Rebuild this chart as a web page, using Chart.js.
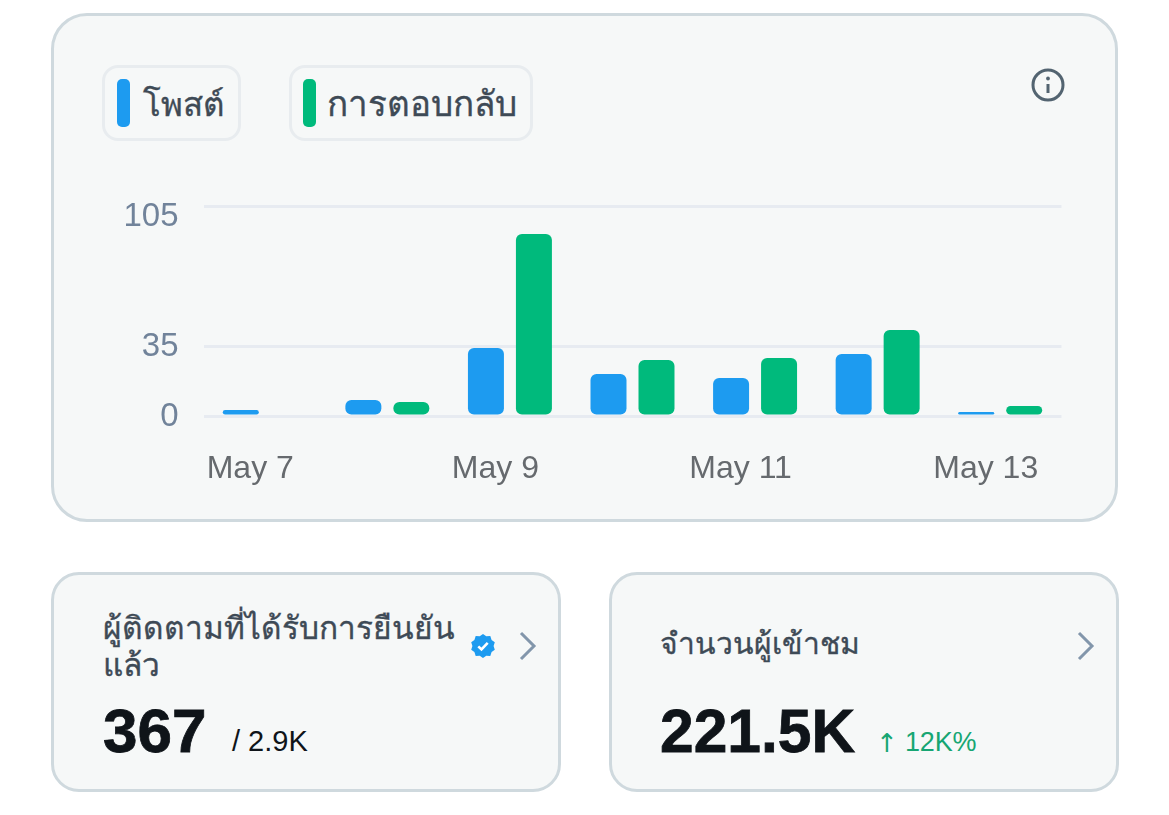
<!DOCTYPE html>
<html lang="th"><head><meta charset="utf-8">
<script src="https://cdn.jsdelivr.net/npm/chart.js@4/dist/chart.umd.js"></script>
<style>
html,body{margin:0;padding:0;background:#fff;width:1169px;height:815px;overflow:hidden;font-family:"Liberation Sans","Noto Sans",sans-serif}
.abs,.card,.pill,.sw,svg,canvas,.t{position:absolute;box-sizing:border-box}
.card{background:#f6f8f8;border:3px solid #cfd9de}
.pill{border:3px solid #e8ecef;border-radius:16px;height:76px;top:65px}
.sw{width:13px;height:48px;top:79px;border-radius:5px}
.t{white-space:nowrap;line-height:1}
.th{color:#3e4a56;-webkit-text-stroke:.35px #3e4a56}
.big{font-weight:700;color:#0f1419;-webkit-text-stroke:.8px #0f1419}
</style></head><body>
<div class="card" style="left:51px;top:13px;width:1067px;height:509px;border-radius:36px"></div>
<div class="pill" style="left:102px;width:139px"></div>
<div class="sw" style="left:117px;background:#1d9bf0"></div>
<div class="t th" id="l0" style="left:143px;top:88px;font-size:33px"></div>
<div class="pill" style="left:289px;width:244px"></div>
<div class="sw" style="left:303px;background:#00ba7c"></div>
<div class="t th" id="l1" style="left:327px;top:86px;font-size:35px"></div>
<svg style="left:1030px;top:67px" width="36" height="36" viewBox="0 0 36 36" fill="none" stroke="#536471" stroke-width="3"><circle cx="18" cy="18" r="15"/><path d="M18 17v9"/><circle cx="18" cy="11.5" r="1.2" fill="#536471" stroke-width="1.4"/></svg>
<canvas id="c" width="980" height="310" style="left:100px;top:190px;width:980px;height:310px"></canvas>

<div class="card" style="left:51px;top:572px;width:510px;height:220px;border-radius:28px"></div>
<div class="t th" style="left:103px;top:610px;font-size:31.6px;line-height:37px">ผู้ติดตามที่ได้รับการยืนยัน<br>แล้ว</div>
<svg style="left:470px;top:633px" width="26" height="26" viewBox="0 0 26 26"><path fill="#1d9bf0" d="M13 1l3.3 2.3 4-.2 1.3 3.8 3.2 2.4L23.6 13l1.2 3.7-3.2 2.4-1.3 3.8-4-.2L13 25l-3.3-2.3-4 .2-1.3-3.8-3.2-2.4L2.4 13 1.2 9.3l3.2-2.4 1.3-3.8 4 .2z"/><path d="M8.3 13.3l3.2 3.2 6.2-6.6" fill="none" stroke="#fff" stroke-width="2.6"/></svg>
<svg style="left:518px;top:631px" width="20" height="30" viewBox="0 0 20 30" fill="none" stroke="#8296ab" stroke-width="3"><path d="M3 2l13 13L3 28"/></svg>
<div class="t big" style="left:103px;top:700px;font-size:62px">367</div>
<div class="t" style="left:232px;top:727px;font-size:29px;color:#0f1419">/ 2.9K</div>

<div class="card" style="left:609px;top:572px;width:510px;height:220px;border-radius:28px"></div>
<div class="t th" style="left:660px;top:629px;font-size:30px">จำนวนผู้เข้าชม</div>
<svg style="left:1076px;top:631px" width="20" height="30" viewBox="0 0 20 30" fill="none" stroke="#8296ab" stroke-width="3"><path d="M3 2l13 13L3 28"/></svg>
<div class="t big" style="left:660px;top:701px;font-size:60.5px">221.5K</div>
<div class="t" style="left:876px;top:730px;font-size:26px;font-family:'DejaVu Sans';color:#17a673">↑</div>
<div class="t" style="left:905px;top:729px;font-size:27px;color:#17a673;letter-spacing:-.2px">12K%</div>

<script>
const categories = ["May 7","May 8","May 9","May 10","May 11","May 12","May 13"];
const tickLabels = ["May 7","","May 9","","May 11","","May 13"];
const yTicks = [0,35,105];
const seriesNames = ["โพสต์","การตอบกลับ"];
const posts = [3,8,34,21,19,31,2];
const replies = [0,7,91,28,29,43,5];
document.getElementById('l0').textContent = seriesNames[0];
document.getElementById('l1').textContent = seriesNames[1];
const nudgeTop = {id:'nudgeTop',beforeDraw(chart){
  const s = chart.scales.y;
  s.getLabelItems().forEach(it=>{
    if(it.label==='105' && !it._n){it._n=1;it.options.translation=[it.options.translation[0],it.options.translation[1]+10];}
  });
}};
const noPad = s=>{s.paddingLeft=s.paddingRight=s.paddingTop=s.paddingBottom=0;};
new Chart(document.getElementById('c'),{
  type:'bar',
  data:{labels:categories,datasets:[
    {label:seriesNames[0],data:posts,backgroundColor:'#1d9bf0'},
    {label:seriesNames[1],data:replies,backgroundColor:'#00ba7c'}
  ]},
  options:{
    responsive:false,animation:false,
    layout:{padding:{top:16,right:18.5,left:0,bottom:0}},
    categoryPercentage:0.783,barPercentage:0.75,
    datasets:{bar:{borderRadius:6,borderSkipped:false}},
    plugins:{legend:{display:false},tooltip:{enabled:false}},
    scales:{
      x:{
        grid:{display:false},border:{display:false},
        ticks:{callback:(v,i)=>tickLabels[i],autoSkip:false,maxRotation:0,labelOffset:-14.5,padding:25.5,color:'#666a6e',font:{family:'"Liberation Sans"',size:32}},
        afterFit(s){s.height=84;noPad(s);}
      },
      y:{
        min:0,max:105,
        afterBuildTicks(s){s.ticks=yTicks.map(v=>({value:v}));},
        grid:{color:'#e7ebf1',lineWidth:3,drawTicks:false},border:{display:false},
        ticks:{padding:25,labelOffset:1,color:'#71839a',font:{family:'"Liberation Sans"',size:33}},
        afterFit(s){s.width=103.5;noPad(s);}
      }
    }
  },
  plugins:[nudgeTop]
});
</script>
</body></html>
